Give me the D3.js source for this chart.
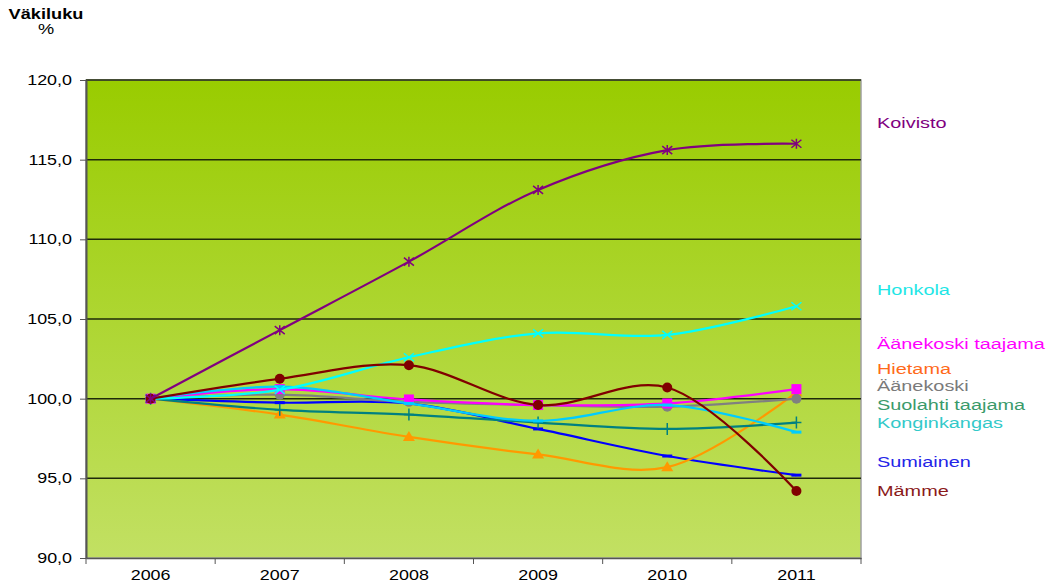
<!DOCTYPE html>
<html>
<head>
<meta charset="utf-8">
<script src="https://cdn.jsdelivr.net/npm/d3@7"></script>
<style>
  body { margin: 0; background: #fff; font-family: "Liberation Sans", Arial, sans-serif; }
</style>
</head>
<body>
<div id="chart"></div>
<script>
// data (index, 2006 = 100)
var years = ["2006", "2007", "2008", "2009", "2010", "2011"];
var yTicks = [90, 95, 100, 105, 110, 115, 120];

var koivisto   = [100, 104.3, 108.6, 113.1, 115.6, 116.0];
var honkola    = [100, 100.55, 102.6, 104.1, 104.0, 105.8];
var aanTaajama = [100, 100.6, 99.95, 99.6, 99.7, 100.6];
var hietama    = [100, 99.0, 97.6, 96.5, 95.7, 100.4];
var aanekoski  = [100, 100.25, 99.8, 99.6, 99.5, 100.0];
var suolahti   = [100, 99.3, 99.0, 98.5, 98.1, 98.5];
var konginkangas = [100, 100.75, 99.7, 98.6, 99.6, 97.9];
var sumiainen  = [100, 99.75, 99.7, 98.1, 96.4, 95.2];
var mamme      = [100, 101.25, 102.1, 99.6, 100.7, 94.2];

// name, values, line colour, marker, label colour, label y value
var series = [
  {name: "Sumiainen", values: sumiainen, color: "#0000ff", marker: "dash", label: "#2424e8", ly: 96.0},
  {name: "Hietama", values: hietama, color: "#ff9900", marker: "tri", label: "#ff6a1a", ly: 101.85},
  {name: "Suolahti taajama", values: suolahti, color: "#008080", marker: "plus", label: "#3a9a6a", ly: 99.6},
  {name: "Äänekoski", values: aanekoski, color: "#808080", marker: "circle", label: "#7a7a7a", ly: 100.8},
  {name: "Äänekoski taajama", values: aanTaajama, color: "#ff00ff", marker: "square", label: "#ff00ff", ly: 103.4},
  {name: "Konginkangas", values: konginkangas, color: "#00ccff", marker: "dash", label: "#33c9c9", ly: 98.5},
  {name: "Honkola", values: honkola, color: "#00ffff", marker: "x", label: "#1ee6e6", ly: 106.8},
  {name: "Mämme", values: mamme, color: "#800000", marker: "circle", label: "#8b1a1a", ly: 94.2},
  {name: "Koivisto", values: koivisto, color: "#800080", marker: "star", label: "#800080", ly: 117.3}
];

var stretch = 1.28; // the reference text is drawn wide

var margin = {top: 80, right: 192, bottom: 26, left: 86},
    width = 1053 - margin.left - margin.right,
    height = 558 - margin.top;

var svg = d3.select("#chart")
  .append("svg")
    .attr("width", 1053)
    .attr("height", 584);

var defs = svg.append("defs");
var grad = defs.append("linearGradient")
    .attr("id", "bg")
    .attr("x1", 0).attr("y1", 0).attr("x2", 0).attr("y2", 1);
grad.append("stop").attr("offset", "0%").attr("stop-color", "#99cc00");
grad.append("stop").attr("offset", "100%").attr("stop-color", "#c2e063");

var g = svg.append("g")
    .attr("transform", "translate(" + margin.left + "," + margin.top + ")");

var x = d3.scaleBand().domain(years).range([0, width]);
var y = d3.scaleLinear().domain([90, 120]).range([height, 0]);

// plot background
g.append("rect")
    .attr("width", width)
    .attr("height", height)
    .attr("fill", "url(#bg)")
    .attr("stroke", "#a0a0a0")
    .attr("stroke-width", 1.5);

// gridlines
g.append("g")
  .selectAll("line")
  .data(yTicks.slice(1))
  .enter()
  .append("line")
    .attr("x1", 0).attr("x2", width)
    .attr("y1", function (d) { return y(d); })
    .attr("y2", function (d) { return y(d); })
    .attr("stroke", "#1f2a0a")
    .attr("stroke-width", 1.5);

// y axis
var yAxis = g.append("g")
    .call(d3.axisLeft(y).tickValues(yTicks).tickSize(6).tickSizeOuter(0)
      .tickFormat(function (d) { return d3.format(".1f")(d).replace(".", ","); }));
yAxis.select(".domain").attr("stroke", "#555").attr("stroke-width", 2);
yAxis.selectAll(".tick line").attr("stroke", "#555");
yAxis.selectAll("text")
    .attr("x", -14 / stretch)
    .attr("transform", "scale(" + stretch + ",1)")
    .style("font-family", "Liberation Sans, Arial, sans-serif")
    .style("font-size", "14px")
    .attr("fill", "#000");

// x axis
var xAxis = g.append("g")
    .attr("transform", "translate(0," + height + ")")
    .call(d3.axisBottom(x).tickSize(0).tickSizeOuter(0));
xAxis.select(".domain").attr("stroke", "#555").attr("stroke-width", 1.5);
xAxis.selectAll("text")
    .attr("y", 12)
    .attr("transform", "scale(" + stretch + ",1)")
    .style("font-family", "Liberation Sans, Arial, sans-serif")
    .style("font-size", "14px")
    .attr("fill", "#000");
// category separators
g.append("g")
  .selectAll("line")
  .data(years.concat(["end"]))
  .enter()
  .append("line")
    .attr("x1", function (d, i) { return i * x.bandwidth(); })
    .attr("x2", function (d, i) { return i * x.bandwidth(); })
    .attr("y1", height).attr("y2", height + 6)
    .attr("stroke", "#555");

// title
svg.append("text")
    .attr("transform", "translate(46,19) scale(1.3,1)")
    .attr("text-anchor", "middle")
    .style("font-size", "14px")
    .style("font-weight", "bold")
    .text("Väkiluku");
svg.append("text")
    .attr("transform", "translate(46,34) scale(1.3,1)")
    .attr("text-anchor", "middle")
    .style("font-size", "14px")
    .text("%");

var line = d3.line()
    .x(function (d, i) { return x(years[i]) + x.bandwidth() / 2; })
    .y(function (d) { return y(d); })
    .curve(d3.curveCatmullRom.alpha(0.5));

var lines = g.append("g");
series.forEach(function (s) {
  lines.append("path")
      .datum(s.values)
      .attr("fill", "none")
      .attr("stroke", s.color)
      .attr("stroke-width", 2.2)
      .attr("d", line);

  var m = lines.selectAll(".m" + s.name.replace(/\W/g, ""))
    .data(s.values)
    .enter()
    .append("g")
      .attr("transform", function (d, i) {
        return "translate(" + (x(years[i]) + x.bandwidth() / 2) + "," + y(d) + ")";
      });

  if (s.marker === "circle") {
    m.append("circle").attr("r", 5).attr("fill", s.color);
  } else if (s.marker === "square") {
    m.append("rect").attr("x", -5).attr("y", -5).attr("width", 10).attr("height", 10).attr("fill", s.color);
  } else if (s.marker === "tri") {
    m.append("path").attr("d", "M0,-6L6,4L-6,4Z").attr("fill", s.color);
  } else if (s.marker === "x" || s.marker === "star") {
    m.append("path").attr("d", "M-5,-4L5,4M-5,4L5,-4" + (s.marker === "star" ? "M0,-5L0,5" : ""))
      .attr("stroke", s.color).attr("stroke-width", 1.5);
  } else if (s.marker === "plus") {
    m.append("path").attr("d", "M-5,0L5,0M0,-6L0,6").attr("stroke", s.color).attr("stroke-width", 1.5);
  } else if (s.marker === "dash") {
    m.append("path").attr("d", "M-5,0L5,0").attr("stroke", s.color).attr("stroke-width", 3);
  }
});

// labels on the right, drawn a bit wider than the axis text
svg.append("g")
  .selectAll("text")
  .data(series)
  .enter()
  .append("text")
    .attr("transform", function (d) {
      return "translate(" + (margin.left + width + 16) + "," + (margin.top + y(d.ly) + 5) + ") scale(1.42,1)";
    })
    .attr("fill", function (d) { return d.label; })
    .style("font-size", "14px")
    .text(function (d) { return d.name; });
</script>
</body>
</html>
